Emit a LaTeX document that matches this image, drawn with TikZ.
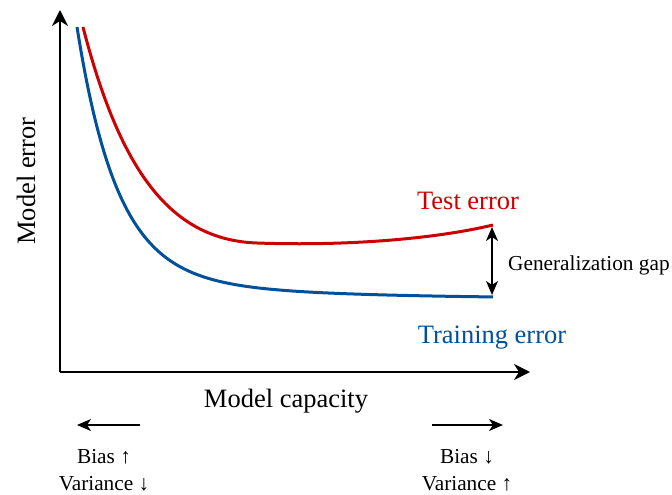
\documentclass[tikz,border=0pt]{standalone}
\usepackage{fontspec}
\setmainfont{Liberation Serif}
\usetikzlibrary{arrows.meta}
\definecolor{testred}{RGB}{204,0,0}
\definecolor{trainblue}{RGB}{0,80,155}
\begin{document}
\begin{tikzpicture}[x=1pt,y=-1pt,
  axis/.style={line width=1.8pt,-{Stealth[length=16pt,width=16pt,inset=5pt]}},
  curve/.style={line width=3pt},
  smallarrow/.style={line width=1.6pt,-{Stealth[length=14pt,width=12pt,inset=4pt]}},
  gaparrow/.style={line width=1.6pt,{Stealth[length=14pt,width=12pt,inset=4pt]}-{Stealth[length=14pt,width=12pt,inset=4pt]}},
  biglabel/.style={inner sep=0pt,font=\fontsize{26.5}{30}\selectfont},
  smalllabel/.style={inner sep=0pt,font=\fontsize{21.3}{27}\selectfont,align=center}]
\useasboundingbox (0,0) rectangle (672,495);
% axes
\coordinate (origin) at (60,372);
\coordinate (ytip) at (60,10);
\coordinate (xtip) at (530,372);
\draw[axis] (origin) -- (ytip);
\draw[axis] (origin) -- (xtip);
% curves
\coordinate (teststart) at (83,27);
\coordinate (testmin) at (257,243);
\coordinate (testend) at (493,225);
\coordinate (trainend) at (493,297);
\draw[curve,trainblue] plot[domain=77:493,samples=160,smooth]
  (\x,{299-247*exp(-0.025*(\x-77))-25*exp(-0.006*(\x-77))});
\draw[curve,testred] (teststart) .. controls (120,170) and (170,240) .. (testmin)
  .. controls (340,246) and (430,240) .. (testend);
% generalization gap
\coordinate (gaptop) at (492,227);
\coordinate (gapbot) at (492,295);
\draw[gaparrow] (gaptop) -- (gapbot);
\node[smalllabel,anchor=west] (gap) at (508,265) {Generalization gap};
% labels
\node[biglabel,text=testred] (testlbl) at (468,201) {Test error};
\node[biglabel,text=trainblue] (trainlbl) at (492,338) {Training error};
\node[biglabel] (xlbl) at (286,401) {Model capacity};
\node[biglabel,rotate=90] (ylbl) at (26,181) {Model error};
% bias/variance
\coordinate (la) at (140,425);
\coordinate (lb) at (77,425);
\draw[smallarrow] (la) -- (lb);
\coordinate (ra) at (432,425);
\coordinate (rb) at (503,425);
\draw[smallarrow] (ra) -- (rb);
\node[smalllabel] (leftbv) at (104,470) {Bias ↑\\Variance ↓};
\node[smalllabel] (rightbv) at (467,470) {Bias ↓\\Variance ↑};
\end{tikzpicture}
\end{document}
